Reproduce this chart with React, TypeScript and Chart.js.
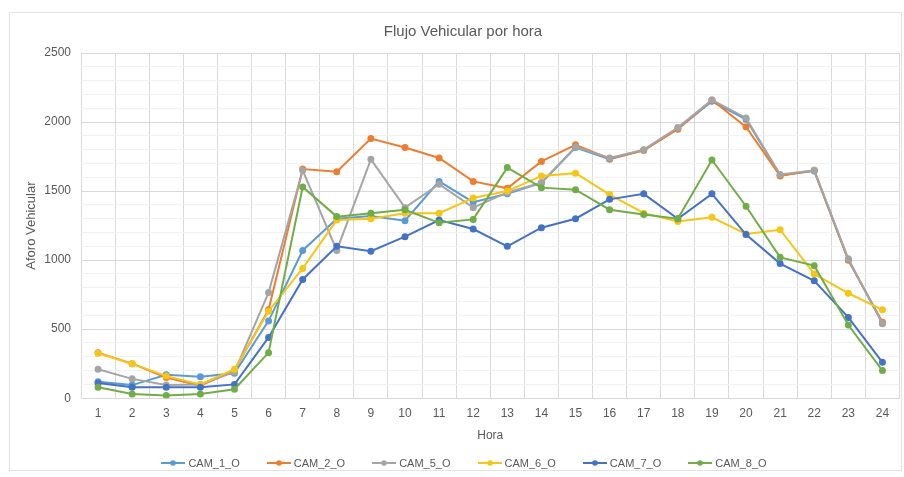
import React, { useEffect, useRef } from 'react';
import { Chart, registerables } from 'chart.js';

Chart.register(...registerables);

const hours = ['1', '2', '3', '4', '5', '6', '7', '8', '9', '10', '11', '12', '13', '14', '15', '16', '17', '18', '19', '20', '21', '22', '23', '24'];

const cam1 = [120, 95, 170, 155, 180, 560, 1070, 1300, 1320, 1285, 1570, 1420, 1480, 1560, 1815, 1730, 1795, 1950, 2150, 2020, 1615, 1645, 1000, 545];
const cam2 = [330, 250, 150, 90, 200, 640, 1660, 1640, 1880, 1815, 1740, 1570, 1520, 1715, 1835, 1735, 1795, 1950, 2160, 1965, 1610, 1650, 1000, 550];
const cam5 = [210, 140, 95, 100, 190, 765, 1650, 1070, 1730, 1380, 1550, 1380, 1490, 1560, 1820, 1740, 1800, 1960, 2160, 2030, 1620, 1650, 1010, 540];
const cam6 = [325, 250, 160, 100, 210, 630, 940, 1290, 1300, 1340, 1340, 1450, 1500, 1610, 1630, 1475, 1340, 1280, 1310, 1190, 1220, 900, 760, 640];
const cam7 = [110, 80, 80, 80, 100, 440, 860, 1100, 1065, 1170, 1290, 1225, 1100, 1235, 1300, 1440, 1480, 1300, 1480, 1185, 975, 850, 585, 260];
const cam8 = [80, 30, 20, 30, 65, 330, 1530, 1315, 1340, 1365, 1270, 1295, 1670, 1525, 1510, 1365, 1330, 1300, 1725, 1390, 1020, 960, 530, 200];

const seriesNames = ['CAM_1_O', 'CAM_2_O', 'CAM_5_O', 'CAM_6_O', 'CAM_7_O', 'CAM_8_O'];
const seriesColors = ['#5B9BD5', '#ED7D31', '#A5A5A5', '#F5C518', '#4472C4', '#70AD47'];

const FONT = "'Liberation Sans', Arial, sans-serif";
const TEXT = '#595959';

export default function App() {
  const ref = useRef<HTMLCanvasElement>(null);

  useEffect(() => {
    if (!ref.current) return;
    const values = [cam1, cam2, cam5, cam6, cam7, cam8];

    const datasets = seriesNames.map((name, i) => ({
      label: name,
      data: values[i],
      borderColor: seriesColors[i],
      backgroundColor: seriesColors[i],
      pointBackgroundColor: seriesColors[i],
      pointBorderColor: seriesColors[i],
      pointRadius: 2.5,
      pointHoverRadius: 2.5,
      borderWidth: 2,
      tension: 0,
      fill: false,
      order: seriesNames.length - i,
    }));

    const chart = new Chart(ref.current, {
      type: 'line',
      data: { labels: hours, datasets },
      options: {
        responsive: false,
        animation: false,
        devicePixelRatio: 1,
        layout: { padding: { top: 12, right: 2, left: 24, bottom: 34 } },
        plugins: {
          tooltip: { enabled: false },
          legend: { display: false },
          title: {
            display: true,
            text: 'Flujo Vehicular por hora',
            color: TEXT,
            font: { family: FONT, size: 15, weight: 'normal' },
            padding: { top: 11, bottom: 12 },
          },
        },
        scales: {
          x: {
            type: 'category',
            offset: true,
            grid: { offset: true, color: '#d9d9d9', drawTicks: false },
            border: { color: '#d9d9d9' },
            ticks: { color: TEXT, font: { family: FONT, size: 12 }, padding: 8, maxRotation: 0, autoSkip: false },
            title: {
              display: true,
              text: 'Hora',
              color: TEXT,
              font: { family: FONT, size: 12 },
              padding: { top: 0, bottom: 0 },
            },
          },
          y: {
            min: 0,
            max: 2500,
            ticks: {
              stepSize: 100,
              autoSkip: false,
              color: TEXT,
              font: { family: FONT, size: 12 },
              padding: 10,
              callback: (v: any) => (Number(v) % 500 === 0 ? String(v) : ''),
            },
            grid: {
              drawTicks: false,
              color: (ctx: any) => (ctx.tick && ctx.tick.value % 500 === 0 ? '#d9d9d9' : '#f1f1f1'),
            },
            border: { display: false },
            title: {
              display: true,
              text: 'Aforo Vehicular',
              color: TEXT,
              font: { family: FONT, size: 13 },
              padding: { top: 0, bottom: 0 },
            },
            afterFit: (s: any) => {
              s.width = 57;
            },
          },
        },
      },
    } as any);

    return () => chart.destroy();
  }, []);

  return (
    <div style={{ position: 'fixed', left: 0, top: 0, width: 904, height: 477, background: '#fff' }}>
      <div
        style={{
          position: 'absolute',
          left: 9,
          top: 12,
          width: 893,
          height: 459,
          border: '1px solid #e3e3e3',
          boxSizing: 'border-box',
        }}
      />
      <canvas ref={ref} width={904} height={477} style={{ position: 'absolute', left: 0, top: 0 }} />
      <div
        style={{
          position: 'absolute',
          left: 24,
          right: 0,
          top: 455,
          height: 16,
          display: 'flex',
          justifyContent: 'center',
          alignItems: 'center',
          gap: 27,
          fontFamily: FONT,
          fontSize: 11,
          color: TEXT,
        }}
      >
        {seriesNames.map((name, i) => (
          <div key={name} style={{ display: 'flex', alignItems: 'center', gap: 3 }}>
            <svg width={24} height={8} style={{ display: 'block' }}>
              <line x1={0} y1={4} x2={24} y2={4} stroke={seriesColors[i]} strokeWidth={2} />
              <circle cx={12} cy={4} r={2.8} fill={seriesColors[i]} />
            </svg>
            <span style={{ whiteSpace: 'nowrap', lineHeight: '16px' }}>{name}</span>
          </div>
        ))}
      </div>
    </div>
  );
}
